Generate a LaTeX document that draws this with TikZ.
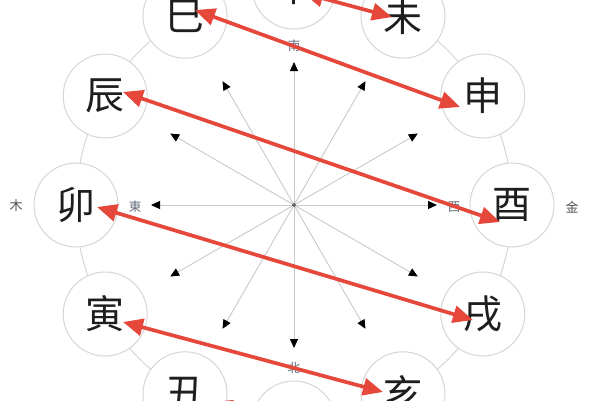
\documentclass[tikz,border=0pt]{standalone}
\usepackage{fontspec}
\newfontfamily\cjk{Noto Sans CJK SC}
\usetikzlibrary{arrows.meta}
\definecolor{ringgray}{HTML}{D6D6D6}
\definecolor{spokegray}{HTML}{CACACA}
\definecolor{harmred}{HTML}{E5473A}
\definecolor{dirgray}{HTML}{5E6878}
\definecolor{elemgray}{HTML}{505050}
\definecolor{chargray}{HTML}{1E1E1E}
\tikzset{
  branch/.style={circle, draw=ringgray, fill=white, line width=1pt,
    minimum size=84pt, inner sep=0pt, text=chargray,
    font=\cjk\fontsize{39}{39}\selectfont},
  spoke/.style={spokegray, line width=0.9pt,
    -{Triangle[length=9pt,width=8pt,color=black]}},
  dirlabel/.style={inner sep=0pt, text=dirgray, font=\cjk\fontsize{12.5}{12.5}\selectfont},
  elemlabel/.style={inner sep=0pt, text=elemgray, font=\cjk\fontsize{13}{13}\selectfont},
  harm/.style={harmred, line width=3.7pt,
    {Triangle[length=20pt,width=17pt]}-{Triangle[length=20pt,width=17pt]}},
  hub/.style={circle, fill=black!60, inner sep=0pt, minimum size=4pt}
}
\begin{document}
\begin{tikzpicture}[x=1pt,y=-1pt]
\useasboundingbox (0,0) rectangle (600,400);
\clip (0,0) rectangle (600,400);
\fill[white] (0,0) rectangle (600,400);
% outer ring
\draw[ringgray, line width=1pt] (294,205) circle[radius=218];
% hub and spokes
\node[hub] (O) at (294,205) {};
\foreach \a in {0,30,...,330}{
  \coordinate (tip\a) at ({294+143*cos(\a)},{205-143*sin(\a)});
  \draw[spoke] (O) -- (tip\a);
}
% branches
\foreach \a/\n/\c in {90/wu/午, 60/wei/未, 30/shen/申, 0/you/酉, -30/xu/戌,
  -60/hai/亥, -90/zi/子, -120/chou/丑, -150/yin/寅, 180/mao/卯,
  150/chen/辰, 120/si/巳}{
  \node[branch] (\n) at ({294+218*cos(\a)},{205-218*sin(\a)}) {\c};
}
% direction labels
\node[dirlabel] (south) at (294,46) {南};
\node[dirlabel] (north) at (294,368) {北};
\node[dirlabel] (east) at (135,207) {東};
\node[dirlabel] (west) at (454,207) {西};
\node[elemlabel] (wood) at (16,206) {木};
\node[elemlabel] (metal) at (572,207) {金};
% six combinations
\coordinate (hWu) at (303,-7);   \coordinate (hWei) at (392,17);
\coordinate (hSi) at (195,10);   \coordinate (hShen) at (460,107);
\coordinate (hChen) at (123,92); \coordinate (hYou) at (500,222);
\coordinate (hMao) at (97,207);  \coordinate (hXu) at (473,320);
\coordinate (hYin) at (123,322); \coordinate (hHai) at (383,392);
\coordinate (hChou) at (212,402);\coordinate (hZi) at (282,426);
\draw[harm] (hWu) -- (hWei);
\draw[harm] (hSi) -- (hShen);
\draw[harm] (hChen) -- (hYou);
\draw[harm] (hMao) -- (hXu);
\draw[harm] (hYin) -- (hHai);
\draw[harm] (hChou) -- (hZi);
\end{tikzpicture}
\end{document}
